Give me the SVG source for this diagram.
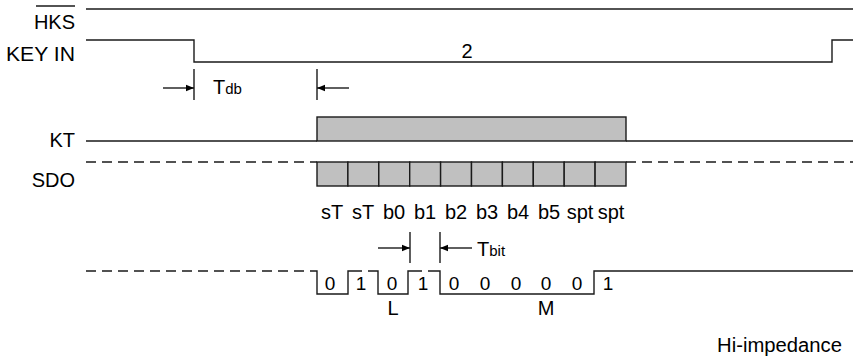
<svg xmlns="http://www.w3.org/2000/svg" width="853" height="360" viewBox="0 0 853 360">
<defs>
<style>
.ln{stroke:#1a1a1a;stroke-width:1.4;fill:none}
.ds{stroke:#1a1a1a;stroke-width:1.4;fill:none;stroke-dasharray:10,6}
.bx{fill:#c0c0c0;stroke:#1a1a1a;stroke-width:1.4}
.t{font-family:"Liberation Sans",Arial,sans-serif;font-size:20px;fill:#000}
.d{font-family:"Liberation Sans",Arial,sans-serif;font-size:19px;fill:#000}
.s{font-size:15px}
.m{text-anchor:middle}
.e{text-anchor:end}
</style>
<marker id="ah" viewBox="0 0 10 10" refX="10" refY="5" markerWidth="10" markerHeight="8" markerUnits="userSpaceOnUse" orient="auto">
<path d="M0,1 L10,5 L0,9 z" fill="#000"/>
</marker>
</defs>
<rect width="853" height="360" fill="#fff"/>

<g id="hks">
<text class="t e" x="75" y="29">HKS</text>
<line class="ln" x1="36" y1="6" x2="75" y2="6"/>
<path class="ln" d="M86,9 H853"/>
</g>

<g id="keyin">
<text class="t e" x="75" y="61" textLength="69" lengthAdjust="spacingAndGlyphs">KEY IN</text>
<path class="ln" d="M86,40 H194 V62 H832 V40 H853"/>
<text class="t m" x="467" y="58">2</text>
</g>

<g id="tdb">
<path class="ln" d="M194,69 V100 M317,69 V100"/>
<text class="t" x="213" y="94">T<tspan class="s">db</tspan></text>
</g>

<g id="kt">
<text class="t e" x="75" y="147">KT</text>
<path class="ln" d="M86,141 H317 M626,141 H853"/>
<rect class="bx" x="317" y="117" width="309" height="24"/>
</g>

<g id="sdo">
<text class="t e" x="75" y="187">SDO</text>
<path class="ds" d="M86,162 H317 M626,162 H853"/>
<rect class="bx" x="317" y="162" width="30.9" height="24"/>
<rect class="bx" x="347.9" y="162" width="30.9" height="24"/>
<rect class="bx" x="378.8" y="162" width="30.9" height="24"/>
<rect class="bx" x="409.7" y="162" width="30.9" height="24"/>
<rect class="bx" x="440.6" y="162" width="30.9" height="24"/>
<rect class="bx" x="471.5" y="162" width="30.9" height="24"/>
<rect class="bx" x="502.4" y="162" width="30.9" height="24"/>
<rect class="bx" x="533.3" y="162" width="30.9" height="24"/>
<rect class="bx" x="564.2" y="162" width="30.9" height="24"/>
<rect class="bx" x="595.1" y="162" width="30.9" height="24"/>
<text class="t m" x="332" y="219">sT</text>
<text class="t m" x="363" y="219">sT</text>
<text class="t m" x="394" y="219">b0</text>
<text class="t m" x="425" y="219">b1</text>
<text class="t m" x="456" y="219">b2</text>
<text class="t m" x="487" y="219">b3</text>
<text class="t m" x="518" y="219">b4</text>
<text class="t m" x="549" y="219">b5</text>
<text class="t m" x="580" y="219">spt</text>
<text class="t m" x="611" y="219">spt</text>
</g>

<g id="tbit">
<path class="ln" d="M410,232 V263 M440,232 V263"/>
<text class="t" x="477" y="256">T<tspan class="s">bit</tspan></text>
</g>

<g id="wave">
<path class="ds" d="M86,271 H313 M352,271 H374 M412,271 H436"/>
<path class="ln" d="M313,271 H317 V294 H348 V271 H352 M374,271 H378 V294 H408 V271 H412 M436,271 H440 V294 H594 V271 H853"/>
<text class="d m" x="330" y="290">0</text>
<text class="d m" x="361" y="290">1</text>
<text class="d m" x="392" y="290">0</text>
<text class="d m" x="423" y="290">1</text>
<text class="d m" x="454" y="290">0</text>
<text class="d m" x="485" y="290">0</text>
<text class="d m" x="516" y="290">0</text>
<text class="d m" x="546" y="290">0</text>
<text class="d m" x="577" y="290">0</text>
<text class="d m" x="608" y="290">1</text>
<text class="t m" x="393" y="315">L</text>
<text class="t m" x="546" y="315">M</text>
</g>

<g id="connectors">
<line class="ln" x1="163" y1="88" x2="194" y2="88" marker-end="url(#ah)"/>
<line class="ln" x1="349" y1="88" x2="317" y2="88" marker-end="url(#ah)"/>
<line class="ln" x1="378" y1="248" x2="410" y2="248" marker-end="url(#ah)"/>
<line class="ln" x1="472" y1="248" x2="440" y2="248" marker-end="url(#ah)"/>
</g>

<g id="legend">
<text class="t" x="717" y="352" textLength="125" lengthAdjust="spacingAndGlyphs">Hi-impedance</text>
</g>
</svg>
